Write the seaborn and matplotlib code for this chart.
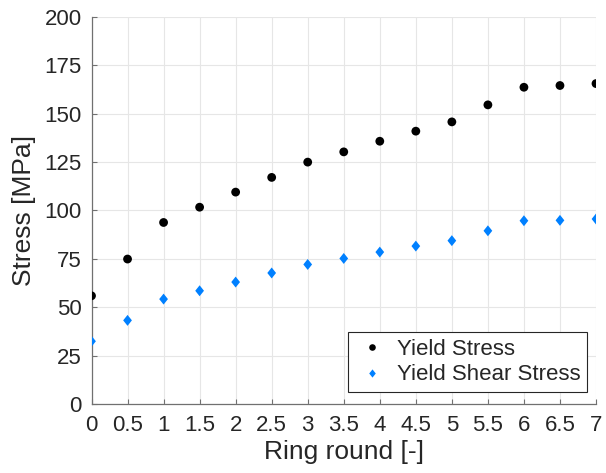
import numpy as np
import pandas as pd
import matplotlib
matplotlib.use("Agg")
import matplotlib.pyplot as plt
import seaborn as sns

ring_round = [0, 0.5, 1, 1.5, 2, 2.5, 3, 3.5, 4, 4.5, 5, 5.5, 6, 6.5, 7]
yield_stress = [55.9, 74.9, 93.8, 101.7, 109.5, 117.1, 125.0, 130.3, 135.8, 141.0, 145.8, 154.6, 163.7, 164.6, 165.6]
yield_shear_stress = [32.4, 43.2, 54.2, 58.5, 63.0, 67.7, 72.1, 75.2, 78.5, 81.6, 84.4, 89.5, 94.7, 94.9, 95.6]
series_names = ["Yield Stress", "Yield Shear Stress"]
x_ticks = [0, 0.5, 1, 1.5, 2, 2.5, 3, 3.5, 4, 4.5, 5, 5.5, 6, 6.5, 7]
x_tick_labels = ["0", "0.5", "1", "1.5", "2", "2.5", "3", "3.5", "4", "4.5", "5", "5.5", "6", "6.5", "7"]
y_ticks = [0, 25, 50, 75, 100, 125, 150, 175, 200]

df = pd.DataFrame({
    "Ring round": ring_round * 2,
    "Stress": yield_stress + yield_shear_stress,
    "Series": [series_names[0]] * len(ring_round) + [series_names[1]] * len(ring_round),
})

sns.set_theme(style="white")
plt.rcParams["font.family"] = ["Liberation Sans", "DejaVu Sans"]

fig = plt.figure(figsize=(6.06, 4.73), dpi=100)
ax = fig.add_axes([0.151, 0.146, 0.8325, 0.818])

# Diamond a bit wider than matplotlib's thin diamond
diamond = [(0, 1), (0.8, 0), (0, -1), (-0.8, 0), (0, 1)]

sns.scatterplot(
    data=df, x="Ring round", y="Stress", hue="Series", style="Series",
    size="Series",
    palette={series_names[0]: "#000000", series_names[1]: "#0080ff"},
    markers={series_names[0]: "o", series_names[1]: diamond},
    sizes={series_names[0]: 40, series_names[1]: 62},
    linewidth=0, ax=ax, zorder=3,
)

ax.set_xlim(0, 7)
ax.set_ylim(0, 200)
ax.set_xticks(x_ticks)
ax.set_xticklabels(x_tick_labels)
ax.set_yticks(y_ticks)
ax.grid(True, color="#e6e6e6", linewidth=0.8)
ax.set_axisbelow(True)
for side in ["top", "right"]:
    ax.spines[side].set_visible(False)
for side in ["left", "bottom"]:
    ax.spines[side].set_color("#707070")
    ax.spines[side].set_linewidth(0.9)
ax.tick_params(axis="both", direction="in", length=3.5, width=0.8, color="#707070",
               labelsize=16, labelcolor="#262626", bottom=True, left=True)
ax.tick_params(axis="x", pad=8)
ax.tick_params(axis="y", pad=7)
ax.set_xlabel("Ring round [-]", fontsize=19, color="#262626", labelpad=3)
ax.set_ylabel("Stress [MPa]", fontsize=19, color="#262626", labelpad=6)

handles, labels = ax.get_legend_handles_labels()
leg = ax.legend(handles, labels, loc="lower right", bbox_to_anchor=(0.982, 0.031),
                borderaxespad=0, fontsize=16, frameon=True, fancybox=False,
                framealpha=1, edgecolor="#262626", handletextpad=0.3,
                handlelength=1.6, borderpad=0.3, labelspacing=0.2,
                markerscale=0.75, title=None)
leg.get_frame().set_linewidth(0.8)

fig.savefig("out.png", dpi=100)
